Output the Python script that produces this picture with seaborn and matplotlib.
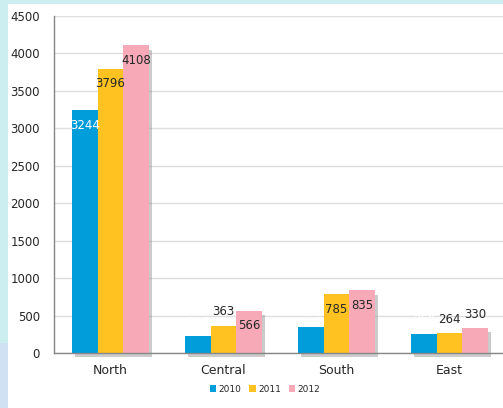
import matplotlib
matplotlib.use("Agg")
import matplotlib.pyplot as plt
import matplotlib.patheffects as pe
from matplotlib.patches import Rectangle
import seaborn as sns
import pandas as pd

regions = ["North", "Central", "South", "East"]
years = ["2010", "2011", "2012"]
sales_2010 = [3244, 227, 351, 250]
sales_2011 = [3796, 363, 785, 264]
sales_2012 = [4108, 566, 835, 330]
y_ticks = [0, 500, 1000, 1500, 2000, 2500, 3000, 3500, 4000, 4500]

palette = {"2010": "#009DDB", "2011": "#FFC220", "2012": "#F7A9B8"}
label_colors = {"2010": "white", "2011": "#262626", "2012": "#262626"}

rows = []
for yr, vals in zip(years, [sales_2010, sales_2011, sales_2012]):
    for reg, v in zip(regions, vals):
        rows.append({"Region": reg, "Year": yr, "Sales": v})
df = pd.DataFrame(rows)

sns.set_theme(style="white")
plt.rcParams["font.family"] = ["DejaVu Sans"]

fig = plt.figure(figsize=(5.03, 4.08), dpi=100)
fig.patch.set_facecolor("white")

# frame strips around the chart area
fig.add_artist(Rectangle((0, 0), 1, 1, transform=fig.transFigure,
                         facecolor="#CDEEF0", edgecolor="none", zorder=-10))
fig.add_artist(Rectangle((0, 0), 8 / 503, 65 / 408, transform=fig.transFigure,
                         facecolor="#CFE1F2", edgecolor="none", zorder=-9))
fig.add_artist(Rectangle((8 / 503, 0), 1, 1 - 4 / 408, transform=fig.transFigure,
                         facecolor="white", edgecolor="none", zorder=-8))

ax = fig.add_axes([54 / 503, 1 - 353 / 408, 452 / 503, 337 / 408])
ax.set_facecolor("none")

sns.barplot(data=df, x="Region", y="Sales", hue="Year", order=regions,
            hue_order=years, palette=palette, width=0.68, gap=0,
            saturation=1, errorbar=None, ax=ax, zorder=3)

shadow = [pe.SimplePatchShadow(offset=(2, -3), shadow_rgbFace="#7f7f7f", alpha=0.4),
          pe.Normal()]
for patch in ax.patches:
    patch.set_path_effects(shadow)
    patch.set_edgecolor("none")
    patch.set_clip_on(False)

# value labels
for cont, yr in zip(ax.containers, years):
    for bar, v in zip(cont, df[df["Year"] == yr]["Sales"]):
        cx = bar.get_x() + bar.get_width() / 2
        top = bar.get_height()
        off = -11 if v >= 400 else 10
        ax.annotate(str(v), (cx, top), xytext=(0, off), textcoords="offset points",
                    ha="center", va="center", fontsize=8.5,
                    color=label_colors[yr], zorder=5)

ax.set_ylim(0, 4500)
ax.set_xlim(-0.5, 3.5)
ax.set_yticks(y_ticks)
ax.set_yticklabels([str(t) for t in y_ticks], fontsize=8.5, color="#262626")
ax.yaxis.grid(True, color="#DEDEDE", linewidth=1, zorder=0)
ax.set_axisbelow(True)

ax.set_xticks([-0.5, 0.5, 1.5, 2.5, 3.5])
ax.set_xticklabels([])
ax.set_xticks(range(len(regions)), minor=True)
ax.set_xticklabels(regions, minor=True, fontsize=9, color="#262626")
ax.tick_params(axis="x", which="major", length=4, color="#A6A6A6", direction="out")
ax.tick_params(axis="x", which="minor", length=0, pad=8)
ax.tick_params(axis="y", length=4, color="#BFBFBF", direction="out", pad=6)
ax.set_xlabel("")
ax.set_ylabel("")

for s in ["top", "right"]:
    ax.spines[s].set_visible(False)
for s in ["left", "bottom"]:
    ax.spines[s].set_color("#868686")
    ax.spines[s].set_linewidth(1)
    ax.spines[s].set_zorder(4)

ax.legend_.remove()
handles = [Rectangle((0, 0), 1, 1, facecolor=palette[y], edgecolor="none") for y in years]
fig.legend(handles, years, loc="center", bbox_to_anchor=(265 / 503, 1 - 389 / 408),
           ncol=3, frameon=False, fontsize=6.5, handlelength=0.7, handleheight=0.7,
           handletextpad=0.25, columnspacing=0.9)

fig.savefig("out.png", dpi=100, facecolor=fig.get_facecolor())
